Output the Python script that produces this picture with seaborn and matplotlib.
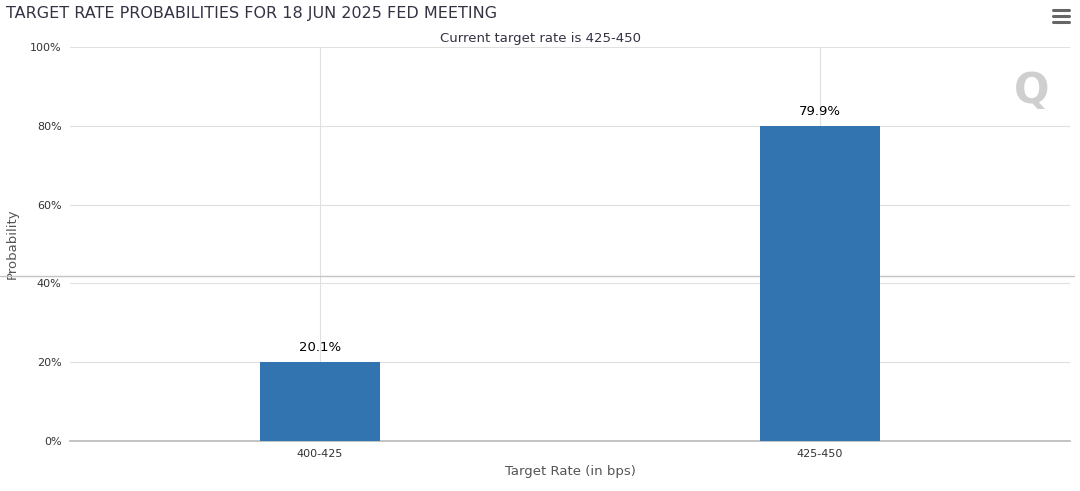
import matplotlib
matplotlib.use("Agg")
import matplotlib.pyplot as plt
import seaborn as sns
import pandas as pd
from matplotlib.ticker import PercentFormatter
from matplotlib.transforms import blended_transform_factory

# data
rates = ["400-425", "425-450"]
probs = [20.1, 79.9]
df = pd.DataFrame({"rate": rates, "prob": probs})

sns.set_theme(style="white")
plt.rcParams['font.family'] = ['DejaVu Sans']

fig = plt.figure(figsize=(10.8, 4.91), dpi=100)
ax = fig.add_axes([0.0648, 0.1018, 0.9259, 0.8025])

sns.barplot(data=df, x="rate", y="prob", color="#3274b0", saturation=1,
            width=0.24, ax=ax, zorder=3, linewidth=0)
ax.set_xlim(-0.5, 1.5)
ax.set_ylim(0, 100)
ax.set_yticks(range(0, 101, 20))
ax.yaxis.set_major_formatter(PercentFormatter(decimals=0))
ax.tick_params(axis="both", labelsize=8, colors="#333333", length=0, pad=6)
ax.grid(True, color="#e0e0e0", linewidth=0.8, zorder=0)
ax.set_axisbelow(True)
for s in ["top", "right", "left"]:
    ax.spines[s].set_visible(False)
ax.spines["bottom"].set_color("#bbbbbb")

for i, p in enumerate(probs):
    ax.text(i, p + 2, f"{p}%", ha="center", va="bottom", fontsize=9.5, color="#000000")

ax.set_xlabel("Target Rate (in bps)", fontsize=9.5, color="#555555")
ax.set_ylabel("Probability", fontsize=9.5, color="#555555", labelpad=8)

fig.text(0.006, 0.972, "TARGET RATE PROBABILITIES FOR 18 JUN 2025 FED MEETING",
         fontsize=11.5, color="#333344", va="center")
fig.text(0.5, 0.922, "Current target rate is 425-450", fontsize=9.5,
         color="#333344", ha="center", va="center")
# menu icon
for dy in (0.955, 0.967, 0.979):
    fig.add_artist(plt.Line2D([0.975, 0.99], [dy, dy], color="#666666", lw=2.2))
# stray horizontal line, behind the bars
tr = blended_transform_factory(fig.transFigure, fig.transFigure)
ax.add_line(plt.Line2D([0, 0.994], [0.438, 0.438], color="#c4c4c4", lw=1,
                       transform=tr, clip_on=False, zorder=2))
# watermark
fig.text(0.955, 0.815, "Q", fontsize=30, color="#cfcfcf", ha="center", va="center",
         fontweight="bold")

fig.savefig("out.png", dpi=100)
